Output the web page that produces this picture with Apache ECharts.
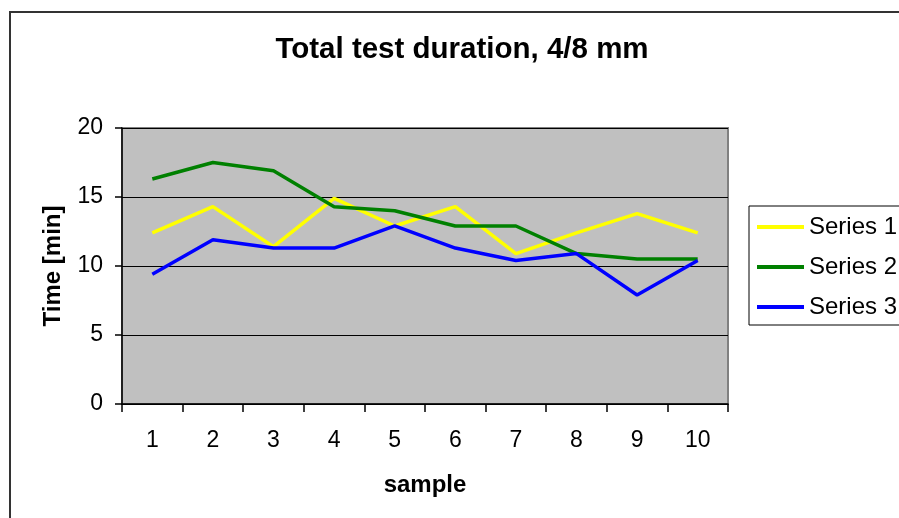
<!DOCTYPE html>
<html>
<head>
<meta charset="utf-8">
<script src="https://cdn.jsdelivr.net/npm/echarts@6/dist/echarts.min.js"></script>
<style>
html,body{margin:0;padding:0;background:#fff;}
#chart{width:899px;height:518px;}
</style>
</head>
<body>
<div id="chart"></div>
<script>
var categories = ['1','2','3','4','5','6','7','8','9','10'];
var series1 = [12.4, 14.3, 11.4, 14.9, 12.9, 14.3, 10.9, 12.4, 13.8, 12.4];
var series2 = [16.3, 17.5, 16.9, 14.3, 14.0, 12.9, 12.9, 10.9, 10.5, 10.5];
var series3 = [9.4, 11.9, 11.3, 11.3, 12.9, 11.3, 10.4, 10.9, 7.9, 10.4];
var seriesNames = ['Series 1', 'Series 2', 'Series 3'];

var FONT = '"Liberation Sans", Arial, sans-serif';
var chart = echarts.init(document.getElementById('chart'), null, {renderer: 'canvas'});

function line(name, data, color) {
  return {
    name: name, type: 'line', data: data, symbol: 'none',
    lineStyle: {color: color, width: 3.5},
    itemStyle: {color: color},
    animation: false
  };
}

chart.setOption({
  animation: false,
  backgroundColor: '#ffffff',
  graphic: [
    {type: 'rect', shape: {x: 10, y: 12, width: 900, height: 520},
     style: {fill: 'none', stroke: '#333333', lineWidth: 2}, z: -10, silent: true},
    {type: 'rect', shape: {x: 749, y: 206, width: 200, height: 119},
     style: {fill: '#fff', stroke: '#000', lineWidth: 1}, z: 1, silent: true},
    {type: 'text', x: 462, y: 50,
     style: {text: 'Total test duration, 4/8 mm', fill: '#000', font: 'bold 29.5px ' + FONT,
             textAlign: 'center', textVerticalAlign: 'middle'}}
  ],
  grid: {
    left: 122, right: 171, top: 128, bottom: 114,
    show: true, backgroundColor: '#c0c0c0', borderColor: '#808080', borderWidth: 2
  },
  legend: {
    orient: 'vertical', left: 749, top: 206, z: 10,
    data: seriesNames,
    icon: 'rect', itemWidth: 47, itemHeight: 4, itemGap: 16,
    padding: [9, 0, 7, 8],
    borderWidth: 0,
    textStyle: {fontFamily: FONT, fontSize: 24, color: '#000', lineHeight: 24}
  },
  xAxis: {
    type: 'category', data: categories, boundaryGap: true,
    name: 'sample', nameLocation: 'middle', nameGap: 69,
    nameTextStyle: {fontFamily: FONT, fontSize: 24, fontWeight: 'bold', color: '#000'},
    axisLine: {lineStyle: {color: '#000', width: 1.5}},
    axisTick: {show: true, length: 8, alignWithLabel: false, lineStyle: {color: '#000', width: 1.5}},
    axisLabel: {fontFamily: FONT, fontSize: 23, color: '#000', margin: 25},
    splitLine: {show: false}
  },
  yAxis: {
    type: 'value', min: 0, max: 20, interval: 5,
    name: 'Time [min]', nameLocation: 'middle', nameGap: 57, nameRotate: 90,
    nameTextStyle: {fontFamily: FONT, fontSize: 24, fontWeight: 'bold', color: '#000'},
    axisLine: {show: true, lineStyle: {color: '#000', width: 1.5}},
    axisTick: {show: true, length: 7, lineStyle: {color: '#000', width: 1.5}},
    axisLabel: {fontFamily: FONT, fontSize: 23, color: '#000', margin: 19},
    splitLine: {show: true, lineStyle: {color: '#000', width: 1}}
  },
  series: [
    line(seriesNames[0], series1, '#ffff00'),
    line(seriesNames[1], series2, '#008000'),
    line(seriesNames[2], series3, '#0000ff')
  ]
});
</script>
</body>
</html>
